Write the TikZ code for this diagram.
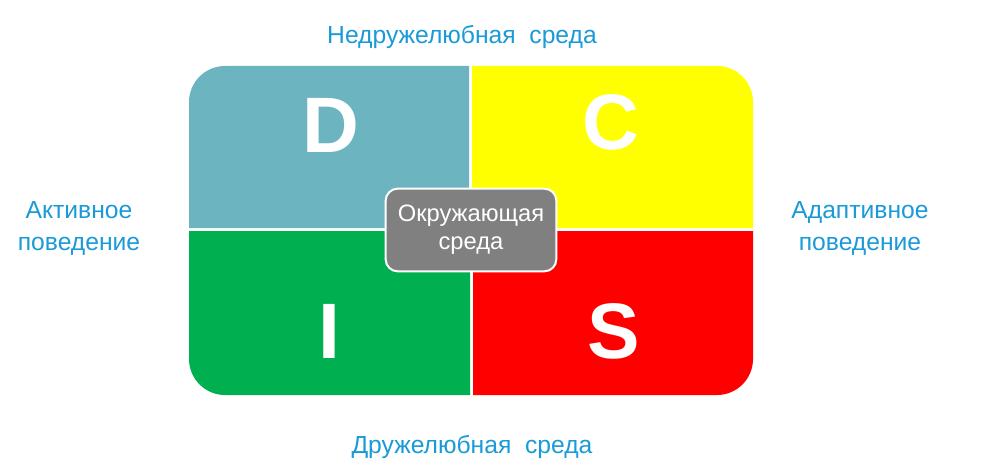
\documentclass[tikz,border=0pt]{standalone}
\usepackage{fontspec}
\setmainfont{Liberation Sans}
\definecolor{dteal}{RGB}{107,180,192}
\definecolor{cyel}{RGB}{255,255,0}
\definecolor{igreen}{RGB}{0,175,80}
\definecolor{sred}{RGB}{255,0,0}
\definecolor{lblue}{RGB}{26,154,214}
\newcommand{\lbl}{\fontsize{18.5}{24}\selectfont}
\newcommand{\quadltr}{\fontsize{59}{59}\selectfont\bfseries}
\begin{document}
\begin{tikzpicture}[x=0.75pt,y=-0.75pt]
   \useasboundingbox (0,0) rectangle (987,474);
   \fill[dteal] (469,228) -- (189,228) [rounded corners=27] -- (189,66) [sharp corners] -- (469,66) -- cycle;
   \fill[cyel] (472,228) -- (472,66) [rounded corners=27] -- (753,66) [sharp corners] -- (753,228) -- cycle;
   \fill[igreen] (470,231) -- (189,231) [rounded corners=27] -- (189,395) [sharp corners] -- (470,395) -- cycle;
   \fill[sred] (473,231) -- (473,395) [rounded corners=27] -- (753,395) [sharp corners] -- (753,231) -- cycle;
   \node[white,anchor=base] (d) at (331,152) {\quadltr D};
   \node[white,anchor=base] (c) at (611,149) {\quadltr C};
   \node[white,anchor=base] (i) at (329,358) {\quadltr I};
   \node[white,anchor=base] (s) at (614,358) {\quadltr S};
   \node[draw=white,line width=1.5pt,fill=gray,rounded corners=9pt,
         minimum width=128pt,minimum height=62pt,text=white,align=center,
         font=\fontsize{17.8}{21}\selectfont] (env) at (471,230) {Окружающая\\среда};
   \node[lblue,anchor=base] (hostile) at (462,44) {\lbl Недружелюбная\ \ среда};
   \node[lblue,anchor=base] (friendly) at (472,453) {\lbl Дружелюбная\ \ среда};
   \node[lblue,anchor=base,align=center,font=\lbl] (active) at (79,250) {Активное\\поведение};
   \node[lblue,anchor=base,align=center,font=\lbl] (adapt) at (860,250) {Адаптивное\\поведение};
  \end{tikzpicture}
\end{document}
